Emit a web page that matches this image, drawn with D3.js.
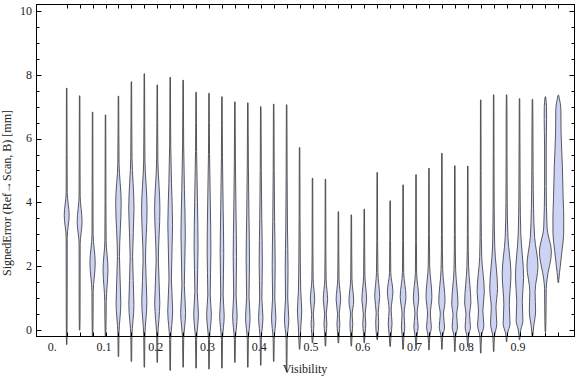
<!DOCTYPE html>
<html>
<head>
<meta charset="utf-8">
<script src="https://cdn.jsdelivr.net/npm/d3@7"></script>
<style>
  body { margin: 0; background: #fff; }
  text { font-family: "Liberation Serif", "Times New Roman", serif; font-size: 12px; fill: #222; }
</style>
</head>
<body>
<div id="chart"></div>
<script>
// visibility bins (one violin each)
const visibility = [0.025,0.05,0.075,0.1,0.125,0.15,0.175,0.2,0.225,0.25,0.275,0.3,0.325,0.35,0.375,0.4,0.425,0.45,0.475,
                    0.5,0.525,0.55,0.575,0.6,0.625,0.65,0.675,0.7,0.725,0.75,0.775,0.8,0.825,0.85,0.875,0.9,0.925,0.95,0.975];
// min / max of signed error per bin [mm]
const minErr = [-0.45,0.0,-0.2,-0.2,-0.83,-0.98,-1.16,-1.01,-1.26,-1.16,-1.19,-1.22,-1.19,-1.01,-1.16,-1.10,-0.98,-1.30,-0.6,
                -0.4,-0.5,-0.4,-0.5,-0.4,-0.3,-0.51,-0.6,-0.6,-0.62,-0.6,-0.67,-0.53,-0.72,-0.67,-0.36,-0.3,-0.2,-0.05,1.49];
const maxErr = [7.58,7.34,6.83,6.74,7.33,7.78,8.03,7.68,7.92,7.83,7.45,7.42,7.31,7.15,7.12,7.00,7.08,7.06,5.72,
                4.76,4.73,3.71,3.61,3.79,4.94,4.05,4.55,4.87,5.07,5.54,5.15,5.14,7.21,7.37,7.37,7.25,7.23,7.31,7.36];
// density profile per bin: [error, relative density]
const profiles = [
  [[0.5,0.2],[2.9,0.3],[3.6,2.3],[4.3,0.3],[5.5,0.15]],
  [[0.5,0.2],[2.7,0.3],[3.4,2.3],[4.2,0.3],[5.5,0.15]],
  [[0.5,0.3],[1.2,0.4],[2.1,2.5],[3.0,0.3],[4.5,0.15]],
  [[0.4,0.4],[0.9,0.5],[1.9,2.3],[2.8,0.4],[4.0,0.2]],
  [[-0.1,0.3],[0.85,2.2],[2.3,0.8],[4.0,2.6],[5.2,0.4],[6.2,0.15]],
  [[-0.2,0.3],[0.8,2.4],[2.3,1.0],[3.8,2.5],[5.4,0.4],[6.5,0.15]],
  [[-0.2,0.3],[0.9,2.4],[2.2,1.0],[3.8,2.6],[5.3,0.4],[6.5,0.15]],
  [[-0.2,0.3],[0.85,2.4],[2.2,0.9],[3.8,2.5],[5.3,0.4],[6.5,0.15]],
  [[-0.3,0.3],[0.6,2.3],[1.6,1.0],[3.3,2.2],[4.6,1.1],[5.8,0.3],[6.8,0.12]],
  [[-0.3,0.3],[0.55,2.3],[1.4,1.0],[3.0,2.0],[4.4,1.1],[5.8,0.3],[6.8,0.12]],
  [[-0.3,0.3],[0.5,2.2],[1.2,1.0],[2.6,1.8],[4.0,1.2],[5.6,0.3],[6.5,0.12]],
  [[-0.3,0.3],[0.5,2.2],[1.1,1.0],[2.5,1.7],[4.0,1.1],[5.5,0.3],[6.5,0.12]],
  [[-0.3,0.3],[0.45,2.1],[1.1,1.0],[2.4,1.6],[3.8,1.0],[5.4,0.3],[6.4,0.12]],
  [[-0.3,0.3],[0.45,2.1],[1.1,1.0],[2.3,1.5],[3.7,0.9],[5.3,0.3],[6.3,0.12]],
  [[-0.3,0.3],[0.4,2.1],[1.05,1.0],[2.2,1.5],[3.6,0.9],[5.2,0.3],[6.3,0.12]],
  [[-0.3,0.3],[0.4,2.0],[1.0,0.9],[2.1,1.4],[3.5,0.8],[5.0,0.3],[6.2,0.12]],
  [[-0.3,0.3],[0.4,2.0],[1.0,0.9],[2.0,1.3],[3.4,0.7],[5.0,0.25],[6.2,0.12]],
  [[-0.3,0.3],[0.35,2.0],[1.0,0.9],[1.9,1.2],[3.2,0.6],[4.8,0.25],[6.2,0.12]],
  [[-0.1,0.8],[0.1,1.0],[0.6,2.0],[1.2,1.0],[2.2,0.5],[3.5,0.2],[4.8,0.1]],
  [[-0.1,0.6],[0.2,1.2],[0.5,0.6],[0.95,2.0],[1.6,0.4],[2.5,0.15]],
  [[-0.1,0.6],[0.2,1.2],[0.5,0.6],[0.95,2.0],[1.6,0.4],[2.5,0.15]],
  [[-0.1,0.6],[0.2,1.2],[0.5,0.6],[0.95,2.1],[1.6,0.4],[2.5,0.15]],
  [[-0.1,0.6],[0.2,1.2],[0.5,0.6],[0.9,2.2],[1.6,0.4],[2.5,0.15]],
  [[-0.1,0.6],[0.2,1.3],[0.5,0.7],[0.95,2.2],[1.7,0.4],[2.6,0.15]],
  [[0.0,1.0],[0.25,1.3],[0.55,0.8],[1.05,2.3],[1.8,0.5],[2.8,0.15]],
  [[-0.2,0.6],[0.22,1.7],[0.63,0.8],[1.2,2.6],[1.8,0.4],[2.8,0.12]],
  [[-0.2,0.6],[0.1,1.5],[0.5,0.8],[1.05,2.7],[1.8,0.4],[2.8,0.12]],
  [[-0.2,0.6],[0.1,2.0],[0.5,0.9],[1.0,2.5],[1.8,0.4],[2.8,0.12]],
  [[-0.2,0.6],[0.1,2.2],[0.5,1.2],[1.05,2.8],[2.0,0.5],[3.0,0.12]],
  [[-0.2,0.6],[0.1,2.5],[0.5,1.4],[0.9,3.0],[1.9,0.6],[3.0,0.15]],
  [[-0.2,0.6],[0.1,2.5],[0.5,1.6],[0.8,3.0],[1.9,0.6],[3.0,0.15]],
  [[-0.2,0.6],[0.1,2.5],[0.5,1.6],[0.85,3.0],[2.0,0.6],[3.0,0.15]],
  [[-0.2,0.6],[0.15,3.0],[0.6,2.0],[1.2,3.5],[2.3,0.8],[3.5,0.25],[5.0,0.12]],
  [[-0.2,0.6],[0.2,3.0],[0.7,2.2],[1.3,3.8],[2.6,0.9],[3.8,0.3],[5.5,0.12]],
  [[-0.1,0.8],[0.2,3.3],[0.8,2.6],[1.75,4.3],[2.9,1.2],[4.0,0.4],[5.5,0.2],[6.6,0.2]],
  [[0.0,1.0],[0.3,3.3],[0.9,2.6],[1.65,4.0],[3.0,1.1],[4.2,0.4],[6.0,0.15]],
  [[0.1,1.0],[0.6,3.0],[1.2,2.5],[2.0,5.5],[2.9,2.0],[3.8,0.9],[5.0,0.4],[6.5,0.2]],
  [[0.3,0.3],[1.3,0.6],[1.6,1.5],[2.45,6.0],[3.2,1.5],[4.5,0.6],[5.8,0.6],[6.6,1.0],[7.0,0.9]],
  [[1.8,1.0],[2.0,1.8],[2.5,3.6],[3.0,5.3],[3.5,5.4],[4.1,4.8],[5.1,4.0],[6.2,2.6],[6.9,2.4]]
];
const xTickValues = [0,0.1,0.2,0.3,0.4,0.5,0.6,0.7,0.8,0.9];
const xTickLabels = ["0.","0.1","0.2","0.3","0.4","0.5","0.6","0.7","0.8","0.9"];
const yMajor = [0,2,4,6,8,10];
const yMinor = d3.range(0, 10.01, 0.5);

const width = 576, height = 377;
const svg = d3.select("#chart").append("svg")
    .attr("width", width).attr("height", height);

const x = d3.scaleLinear().domain([-0.0343, 1.0072]).range([36, 575]);
const y = d3.scaleLinear().domain([-0.2, 10.2]).range([336.5, 4.5]);
const w = d3.scaleLinear().domain([0, 6]).range([0.25, 6]);

// violins
const area = d3.area()
    .y(d => y(d[0]))
    .x0(d => d.cx - w(d[1]))
    .x1(d => d.cx + w(d[1]))
    .curve(d3.curveMonotoneY);

const violins = visibility.map((v, i) => {
    const cx = x(v);
    const pts = [[minErr[i], 0]].concat(profiles[i], [[maxErr[i], 0]]);
    return pts.map(p => { const q = [p[0], p[1]]; q.cx = cx; return q; });
});

svg.append("g").selectAll("path")
    .data(violins)
    .enter().append("path")
    .attr("d", area)
    .style("fill", "#cdd3f5")
    .style("stroke", "#474747")
    .style("stroke-width", 0.9)
    .style("stroke-linejoin", "round");

// frame + ticks
const frame = svg.append("g");
frame.append("rect")
    .attr("x", 36.5).attr("y", 4.5).attr("width", 538).attr("height", 332)
    .style("fill", "none").style("stroke", "#000").style("stroke-width", 1);

function tickLines(vals, len, side) {
    frame.append("g").selectAll("line")
        .data(vals).enter().append("line")
        .attr("x1", d => side == "left" ? 36.5 : side == "right" ? 574.5 : Math.round(x(d)) + 0.5)
        .attr("x2", d => side == "left" ? 36.5 + len : side == "right" ? 574.5 - len : Math.round(x(d)) + 0.5)
        .attr("y1", d => side == "top" ? 4.5 : side == "bottom" ? 336.5 : Math.round(y(d)) + 0.5)
        .attr("y2", d => side == "top" ? 4.5 + len : side == "bottom" ? 336.5 - len : Math.round(y(d)) + 0.5)
        .style("stroke", "#000").style("stroke-width", 1);
}
tickLines(yMajor, 5, "left");
tickLines(yMinor.filter(d => d % 2 != 0), 3, "left");
tickLines(yMajor, 5, "right");
tickLines(yMinor.filter(d => d % 2 != 0), 3, "right");
tickLines(visibility, 4, "top");
tickLines(visibility, 4, "bottom");

// tick labels
svg.append("g").selectAll("text")
    .data(yMajor).enter().append("text")
    .attr("x", 32).attr("y", d => y(d)).attr("dy", "0.32em")
    .attr("text-anchor", "end")
    .text(d => d);

svg.append("g").selectAll("text")
    .data(xTickValues).enter().append("text")
    .attr("x", d => x(d) - 1.5).attr("y", 351)
    .attr("text-anchor", "middle")
    .text((d, i) => xTickLabels[i]);

// axis titles
svg.append("text")
    .attr("x", 305).attr("y", 373)
    .attr("text-anchor", "middle")
    .text("Visibility");

svg.append("text")
    .attr("transform", "translate(11,193) rotate(-90)")
    .attr("text-anchor", "middle")
    .text("SignedError (Ref\u2192Scan, B) [mm]");
</script>
</body>
</html>
